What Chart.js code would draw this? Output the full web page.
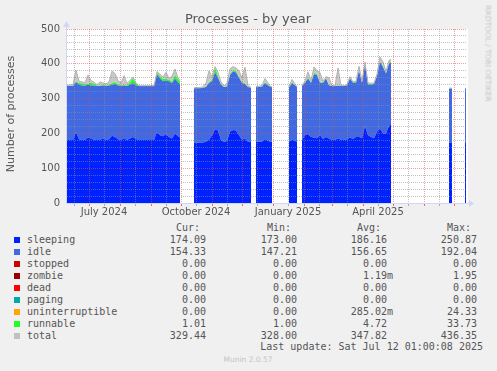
<!DOCTYPE html>
<html>
<head>
<meta charset="utf-8">
<script src="https://cdn.jsdelivr.net/npm/chart.js@4.4.1/dist/chart.umd.min.js"></script>
<style>
  body { margin: 0; background: #f0f0f0; width: 497px; height: 371px; position: relative; overflow: hidden; font-family: 'DejaVu Sans', sans-serif; color: #555; }
  #c { position: absolute; left: 0; top: 0; }
  .t { position: absolute; white-space: pre; }
  .mono { font-family: 'DejaVu Sans Mono', monospace; font-size: 10px; line-height: 12px; color: #555; }
  .sq { position: absolute; width: 6px; height: 6px; }
</style>
</head>
<body>
<canvas id="c" width="497" height="222"></canvas>
<div class="t" style="left:148px;top:11px;width:200px;text-align:center;font-size:13px;line-height:15px;">Processes - by year</div>
<div class="t" style="left:-54px;top:107px;width:130px;text-align:center;font-size:11px;line-height:14px;transform:rotate(-90deg);">Number of processes</div>
<div class="t" style="left:438px;top:49px;width:100px;text-align:center;font-size:7.5px;line-height:9px;color:#c4c4c4;transform:rotate(90deg);">RRDTOOL / TOBI OETIKER</div>
<div class="t" style="left:148px;top:355px;width:200px;text-align:center;font-size:7.5px;line-height:9px;color:#c4c4c4;">Munin 2.0.57</div>
<div id="legend"></div>
<script>
// ---------------------------- données (jours depuis le 9 juin 2024) ----------------------------
const days = [
  0,3,6,9,12,15,18,21,24,27,30,33,36,39,42,45,48,51,54,57,60,63,66,69,72,75,78,81,84,87,90,93,96,99,102,105,108,111,113,
  120,
  127,130,133,136,139,142,145,148,151,154,157,160,163,166,169,172,175,178,181,184,
  187,
  189,192,195,198,201,204,205,
  213,
  222,225,228,230,
  232,
  235,238,241,244,247,250,253,256,259,262,265,268,271,274,277,280,283,286,289,292,295,298,301,304,307,310,313,316,319,322,324,
  353,
  382,385,
  392,
  398,399
];
const sleeping = [
  181,181,181,204,183,181,182,188,185,182,181,181,186,181,183,193,190,183,181,186,181,185,190,184,181,181,181,181,181,181,205,195,192,198,190,185,200,192,188,
  null,
  173,173,173,174,176,182,195,212,208,180,176,178,205,210,208,195,182,185,176,175,
  null,
  176,176,177,184,178,176,176,
  null,
  176,183,178,177,
  null,
  181,195,198,190,188,186,195,184,190,185,181,181,186,181,181,183,188,184,190,190,186,221,195,190,186,205,214,200,200,222,227,
  null,
  173,173,
  null,
  174.09,174.09
];
const idle = [
  155,155,155,144,157,157,155,152,153,155,155,155,151,155,154,147,152,155,155,151,155,155,155,154,155,155,155,155,155,155,165,163,158,154,160,160,158,154,154,
  null,
  157,157,157,157,157,163,155,164,152,160,157,156,163,168,167,165,163,157,157,156,
  null,
  157,157,157,161,160,157,157,
  null,
  156,162,160,156,
  null,
  155,150,160,155,182,182,150,161,168,153,155,155,151,155,155,155,170,161,155,190,159,179,145,150,156,160,191,190,172,178,175,
  null,
  156,156,
  null,
  154.33,154.33
];
const runnable = [
  1,1,1,2,5,6,4,3,8,6,2,2,3,2,3,5,6,4,2,3,2,8,14,6,1,1,1,1,1,1,5,7,6,4,5,4,10,10,8,
  null,
  1,1,1,1,2,3,4,14,6,2,1,2,3,4,5,3,3,2,1,1,
  null,
  1,1,2,3,2,1,1,
  null,
  1,2,2,1,
  null,
  1,2,3,3,4,3,2,2,2,1,1,1,1,1,1,1,2,3,2,3,2,2,2,2,1,2,3,3,2,4,5,
  null,
  1,1,
  null,
  1.01,1.01
];
const total = [
  338,339,340,382,350,348,346,368,352,347,340,348,345,342,348,379,372,352,345,366,344,352,362,345,337,337,337,337,337,337,378,370,362,376,358,364,385,360,352,
  null,
  331,332,332,334,345,380,362,392,375,348,336,345,386,392,388,380,360,390,338,332,
  null,
  334,335,338,358,345,334,334,
  null,
  334,355,342,334,
  null,
  338,350,377,352,391,380,375,350,363,360,337,337,388,338,337,340,363,348,350,393,350,405,345,344,345,370,420,405,378,410,412,
  null,
  330,330,
  null,
  329.44,329.44
];

// graduations
const monthStartDays = [22,53,84,114,145,175,206,237,265,296,326,357,387];
const midMonthDays = [7,37,68,99,129,160,190,221,252,280,311,341,372];
const xLabelDays = [37,129,221,311];
const xLabels = ['July 2024','October 2024','January 2025','April 2025'];

// légende
const legendNames = ['sleeping','idle','stopped','zombie','dead','paging','uninterruptible','runnable','total'];
const legendColors = ['#0022ff','#4169e1','#cc0000','#990000','#ff0000','#00aaaa','#ffa500','#22ff22','#c0c0c0'];
const curVals = ['174.09','154.33','0.00','0.00','0.00','0.00','0.00','1.01','329.44'];
const minVals = ['173.00','147.21','0.00','0.00','0.00','0.00','0.00','1.00','328.00'];
const avgVals = ['186.16','156.65','0.00','1.19m','0.00','0.00','285.02m','4.72','347.82'];
const maxVals = ['250.87','192.04','0.00','1.95','0.00','0.00','24.33','33.73','436.35'];

// ---------------------------- graphique ----------------------------
const RED = 'rgba(222,79,79,0.55)';
const GRAY = 'rgba(143,143,143,0.55)';
const AXIS = '#cfd6f8';

function pts(values) {
    return days.map((d, i) => ({ x: d, y: values[i] }));
}

const fondBlanc = {
    id: 'fondBlanc',
    beforeDraw(chart) {
        const a = chart.chartArea, ctx = chart.ctx;
        ctx.save();
        ctx.fillStyle = '#ffffff';
        ctx.fillRect(a.left, a.top, a.right - a.left + 1, a.bottom - a.top);
        ctx.restore();
    }
};

const axesFleches = {
    id: 'axesFleches',
    afterDraw(chart) {
        const a = chart.chartArea, ctx = chart.ctx;
        ctx.save();
        ctx.strokeStyle = AXIS;
        ctx.fillStyle = AXIS;
        ctx.lineWidth = 1;
        ctx.beginPath();
        ctx.moveTo(a.left - 0.5, a.bottom + 1);
        ctx.lineTo(a.left - 0.5, a.top - 2);
        ctx.moveTo(a.left - 1, a.bottom + 0.5);
        ctx.lineTo(a.right + 2, a.bottom + 0.5);
        ctx.stroke();
        ctx.beginPath();
        ctx.moveTo(a.left - 4, a.top - 2);
        ctx.lineTo(a.left + 3, a.top - 2);
        ctx.lineTo(a.left - 0.5, a.top - 8);
        ctx.closePath();
        ctx.fill();
        ctx.beginPath();
        ctx.moveTo(a.right + 2, a.bottom - 3);
        ctx.lineTo(a.right + 2, a.bottom + 4);
        ctx.lineTo(a.right + 7, a.bottom + 0.5);
        ctx.closePath();
        ctx.fill();
        ctx.restore();
    }
};

new Chart(document.getElementById('c'), {
    type: 'line',
    data: {
        datasets: [
            { label: 'sleeping', data: pts(sleeping), backgroundColor: '#0022ff', borderWidth: 0, fill: 'origin', stack: 'procs', order: 1 },
            { label: 'idle', data: pts(idle), backgroundColor: '#4169e1', borderWidth: 0, fill: '-1', stack: 'procs', order: 1 },
            { label: 'runnable', data: pts(runnable), backgroundColor: '#22ff22', borderWidth: 0, fill: '-1', stack: 'procs', order: 1 },
            { label: 'total', data: pts(total), backgroundColor: 'rgba(190,190,190,0.85)', borderColor: '#b4b4b4', borderWidth: 1, fill: '-1', stack: 'total', order: 0 }
        ]
    },
    options: {
        responsive: false,
        animation: false,
        devicePixelRatio: 1,
        spanGaps: false,
        layout: { padding: { top: 29, right: 30, left: 0, bottom: 0 } },
        elements: { point: { radius: 0 }, line: { tension: 0 } },
        plugins: { legend: { display: false }, tooltip: { enabled: false } },
        scales: {
            x: {
                type: 'linear', min: 0, max: 400,
                border: { display: false, dash: [1, 1] },
                afterBuildTicks: s => {
                    s.ticks = monthStartDays.concat(midMonthDays).sort((a, b) => a - b).map(v => ({ value: v }));
                },
                afterFit: s => { s.height = 19; },
                grid: {
                    z: 1,
                    color: c => monthStartDays.includes(c.tick.value) ? RED : GRAY,
                    tickColor: c => monthStartDays.includes(c.tick.value) ? 'rgba(222,79,79,0.8)' : 'rgba(143,143,143,0.7)',
                    tickLength: 3,
                    tickBorderDash: [1, 0]
                },
                ticks: {
                    autoSkip: false, maxRotation: 0, padding: 0, color: '#555',
                    font: { family: 'DejaVu Sans', size: 10 },
                    callback: v => { const i = xLabelDays.indexOf(v); return i < 0 ? '' : xLabels[i]; }
                }
            },
            y: {
                stacked: true, min: 0, max: 500,
                border: { display: false, dash: [1, 1] },
                afterFit: s => { s.width = 67; },
                grid: {
                    z: 1,
                    drawTicks: false,
                    color: c => c.tick.value % 100 === 0 ? RED : GRAY
                },
                ticks: {
                    stepSize: 20, autoSkip: false, padding: 7, color: '#555',
                    font: { family: 'DejaVu Sans', size: 10 },
                    callback: v => v % 100 === 0 ? v : ''
                }
            }
        }
    },
    plugins: [fondBlanc, axesFleches]
});

// ---------------------------- légende façon munin ----------------------------
const legend = document.getElementById('legend');
function ajouterTexte(txt, x, yc, alignDroite) {
    const el = document.createElement('div');
    el.className = 't mono';
    el.textContent = txt;
    el.style.top = (yc - 6) + 'px';
    if (alignDroite) { el.style.right = (497 - x) + 'px'; } else { el.style.left = x + 'px'; }
    legend.appendChild(el);
}
const colRight = [212, 303, 393, 483];
['Cur:', 'Min:', 'Avg:', 'Max:'].forEach((h, j) => ajouterTexte(h + '  ', colRight[j], 228, true));
for (let i = 0; i < legendNames.length; i++) {
    const yc = 240 + 12 * i;
    const sq = document.createElement('div');
    sq.className = 'sq';
    sq.style.left = '14px';
    sq.style.top = (yc - 3) + 'px';
    sq.style.background = legendColors[i];
    legend.appendChild(sq);
    ajouterTexte(legendNames[i], 27, yc, false);
    [curVals[i], minVals[i], avgVals[i], maxVals[i]].forEach((v, j) => {
        ajouterTexte(v.endsWith('m') ? v : v + ' ', colRight[j], yc, true);
    });
}
ajouterTexte('Last update: Sat Jul 12 01:00:08 2025', 483, 347, true);
</script>
</body>
</html>
